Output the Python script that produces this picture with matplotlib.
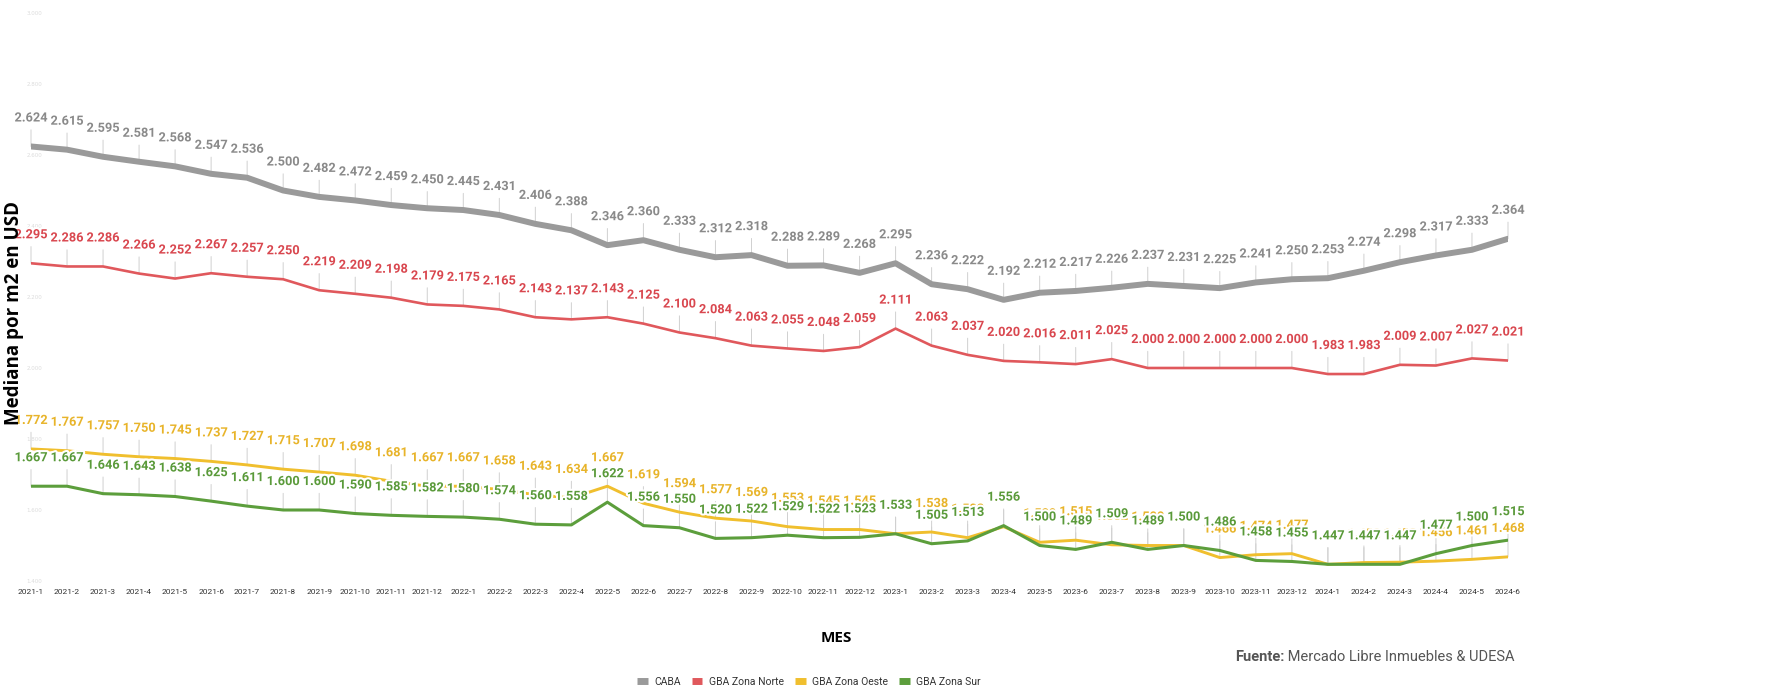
import matplotlib
matplotlib.use("Agg")
import matplotlib.pyplot as plt
import matplotlib.patheffects as pe
from matplotlib.lines import Line2D
import numpy as np

W, H = 1792, 688

meses = ([f"2021-{m}" for m in range(1, 13)] + [f"2022-{m}" for m in range(1, 13)]
         + [f"2023-{m}" for m in range(1, 13)] + [f"2024-{m}" for m in range(1, 7)])

caba = [2.624, 2.615, 2.595, 2.581, 2.568, 2.547, 2.536, 2.500, 2.482, 2.472, 2.459, 2.450,
        2.445, 2.431, 2.406, 2.388, 2.346, 2.360, 2.333, 2.312, 2.318, 2.288, 2.289, 2.268,
        2.295, 2.236, 2.222, 2.192, 2.212, 2.217, 2.226, 2.237, 2.231, 2.225, 2.241, 2.250,
        2.253, 2.274, 2.298, 2.317, 2.333, 2.364]
norte = [2.295, 2.286, 2.286, 2.266, 2.252, 2.267, 2.257, 2.250, 2.219, 2.209, 2.198, 2.179,
         2.175, 2.165, 2.143, 2.137, 2.143, 2.125, 2.100, 2.084, 2.063, 2.055, 2.048, 2.059,
         2.111, 2.063, 2.037, 2.020, 2.016, 2.011, 2.025, 2.000, 2.000, 2.000, 2.000, 2.000,
         1.983, 1.983, 2.009, 2.007, 2.027, 2.021]
oeste = [1.772, 1.767, 1.757, 1.750, 1.745, 1.737, 1.727, 1.715, 1.707, 1.698, 1.681, 1.667,
         1.667, 1.658, 1.643, 1.634, 1.667, 1.619, 1.594, 1.577, 1.569, 1.553, 1.545, 1.545,
         1.533, 1.538, 1.522, 1.553, 1.509, 1.515, 1.502, 1.500, 1.500, 1.466, 1.474, 1.477,
         1.447, 1.452, 1.453, 1.456, 1.461, 1.468]
sur = [1.667, 1.667, 1.646, 1.643, 1.638, 1.625, 1.611, 1.600, 1.600, 1.590, 1.585, 1.582,
       1.580, 1.574, 1.560, 1.558, 1.622, 1.556, 1.550, 1.520, 1.522, 1.529, 1.522, 1.523,
       1.533, 1.505, 1.513, 1.556, 1.500, 1.489, 1.509, 1.489, 1.500, 1.486, 1.458, 1.455,
       1.447, 1.447, 1.447, 1.477, 1.500, 1.515]

series = [
    # nombre, valores, color linea, color etiqueta, ancho
    ("CABA", caba, "#9a9a9a", "#8a8a8a", 4.3),
    ("GBA Zona Norte", norte, "#e0585c", "#d9474f", 1.9),
    ("GBA Zona Oeste", oeste, "#f0bf2e", "#e8b42a", 2.1),
    ("GBA Zona Sur", sur, "#5c9e3c", "#5a9a3a", 2.2),
]

FONT = ["Roboto", "DejaVu Sans"]

fig = plt.figure(figsize=(W / 100, H / 100), dpi=100)
ax = fig.add_axes([31 / W, 1 - 581 / H, (1508 - 31) / W, (581 - 13) / H])
x = np.arange(len(meses))

for k, (name, vals, lc, tc, lw) in enumerate(series):
    ax.plot(x, vals, color=lc, lw=lw, solid_capstyle="round", zorder=3)
    for xi, v in zip(x, vals):
        # linea guia
        ax.annotate("", xy=(xi, v), xytext=(0, 12), textcoords="offset points",
                    arrowprops=dict(arrowstyle="-", color="#d0d0d0", lw=0.7,
                                    shrinkA=0, shrinkB=0), zorder=1)
        ax.annotate(f"{v:.3f}", xy=(xi, v), xytext=(0, 20.5), textcoords="offset points",
                    ha="center", va="center", fontsize=9.2, fontweight="bold",
                    family=FONT, color=tc, zorder=10 + k,
                    path_effects=[pe.withStroke(linewidth=3, foreground="white")])

ax.set_xlim(0, len(meses) - 1)
ax.set_ylim(1.4, 3.0)
ax.set_xticks(x)
ax.set_xticklabels(meses, fontsize=6, family=FONT, color="#333333")
yt = np.arange(1.4, 3.01, 0.2)
ax.set_yticks(yt)
ax.set_yticklabels([f"{v:.3f}" for v in yt], fontsize=4, color="#dcdcdc")
ax.tick_params(axis="x", length=0, pad=6)
ax.tick_params(axis="y", length=0, pad=-8)
ax.patch.set_alpha(0)
for s in ax.spines.values():
    s.set_visible(False)

fig.text(14 / W, 1 - 313 / H, "Mediana por m2 en USD", rotation=90, ha="center", va="center",
         fontsize=13.5, fontweight="bold", family="Open Sans", color="black")
fig.text(836 / W, 1 - 638 / H, "MES", ha="center", va="center",
         fontsize=11, fontweight="bold", family="Open Sans", color="black")

t_src = fig.text(1515 / W, 1 - 657 / H, " Mercado Libre Inmuebles & UDESA", ha="right",
                 va="center", fontsize=10.5, family=FONT, color="#555555")
ax.annotate("Fuente:", xy=(0, 0.5), xycoords=t_src, ha="right", va="center",
            fontsize=10.5, fontweight="bold", family=FONT, color="#555555",
            annotation_clip=False)

handles = [Line2D([], [], color=s[2], lw=5, solid_capstyle="butt") for s in series]
fig.legend(handles, [s[0] for s in series], loc="center", ncol=4,
           bbox_to_anchor=(809 / W, 1 - 682 / H), frameon=False,
           prop=dict(family=FONT, size=7.5), handlelength=1.0, handletextpad=0.6,
           columnspacing=1.1, labelcolor="#333333")

fig.savefig("out.png", dpi=100, facecolor="white")
